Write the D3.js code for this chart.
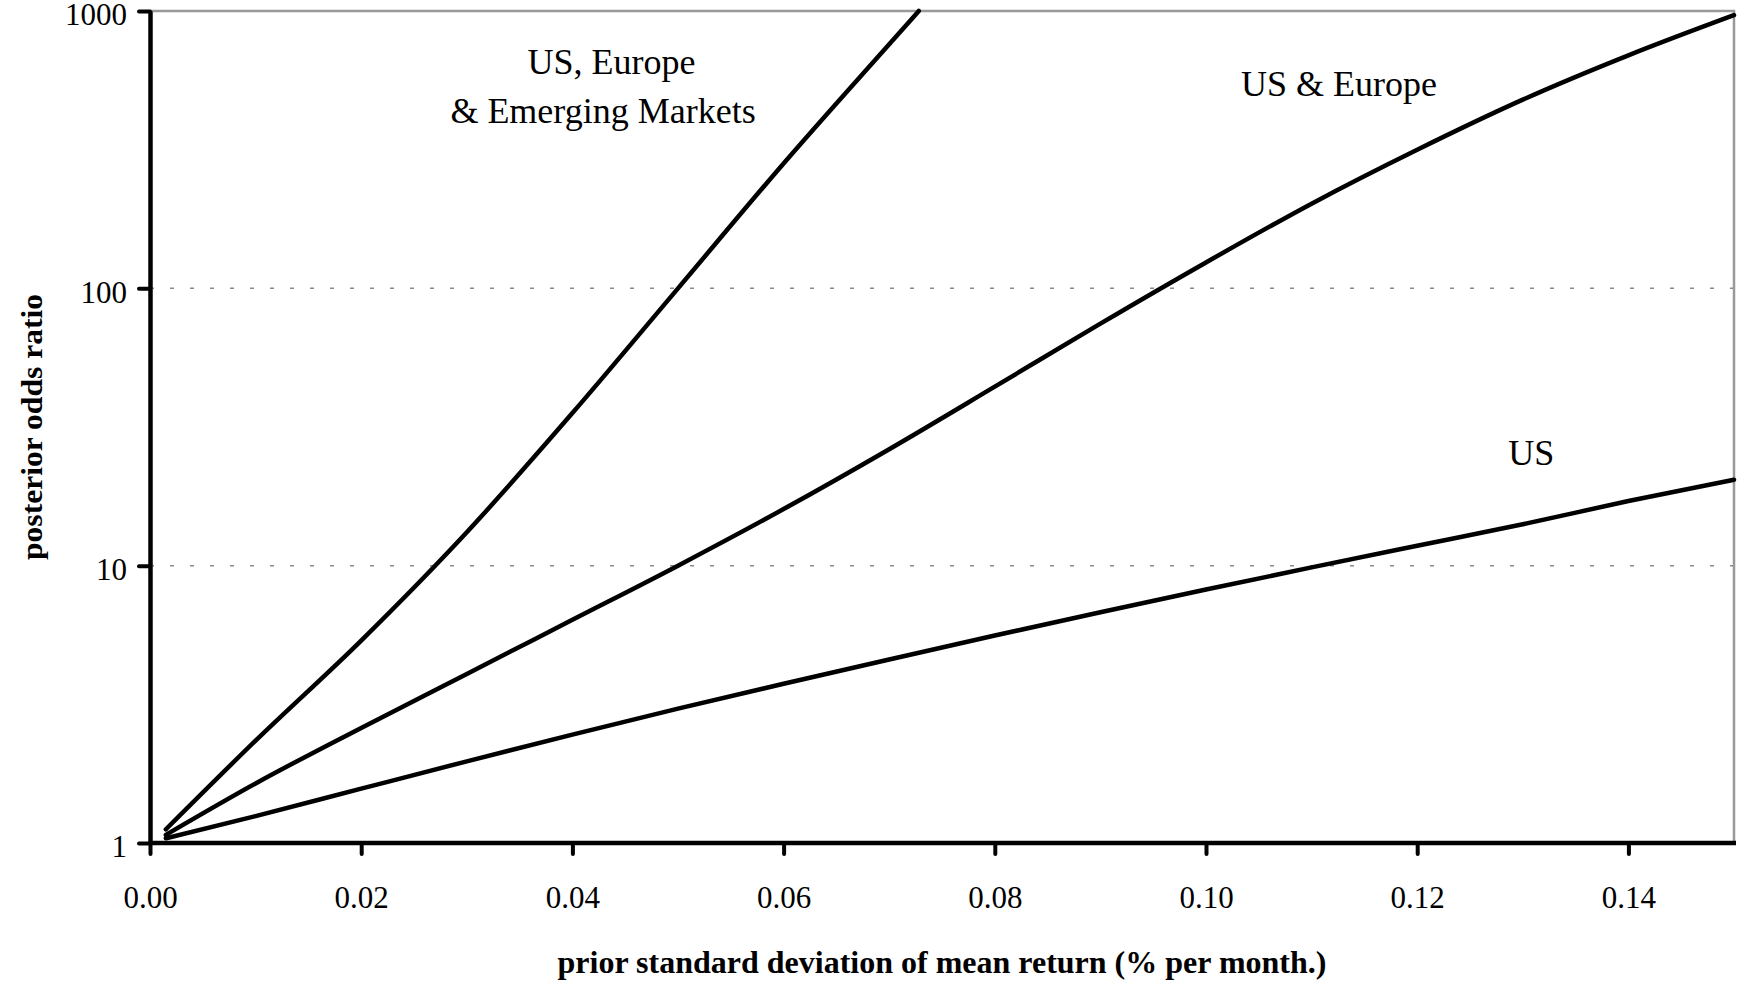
<!DOCTYPE html>
<html>
<head lang="en">
    <meta charset="UTF-8">
    <title></title>
    <script src="https://cdn.jsdelivr.net/npm/d3@7/dist/d3.min.js"></script>
    <style>
        body{margin:0;background:#fff;}
        text{font-family:"Liberation Serif","Times New Roman",serif;fill:#000;}
    </style>
</head>
<body>
<div id="tu1"></div>
<script>
    // prior std dev (x) and posterior odds ratio per market set
    var sigmaUS=[0.0015,0.01,0.02,0.03,0.04,0.05,0.06,0.07,0.08,0.09,0.10,0.11,0.12,0.13,0.14,0.15];
    var oddsUS=[1.04,1.25,1.57,1.97,2.46,3.05,3.75,4.59,5.6,6.79,8.2,9.86,11.8,14.1,17.1,20.4];
    var sigmaUSE=[0.0015,0.01,0.02,0.03,0.04,0.05,0.06,0.07,0.08,0.09,0.10,0.11,0.12,0.13,0.14,0.15];
    var oddsUSE=[1.07,1.64,2.6,4.07,6.38,10,16,26.3,44.2,74.6,124,202,316,479,692,966];
    var sigmaEM=[0.0015,0.01,0.02,0.03,0.04,0.05,0.06,0.07,0.0728];
    var oddsEM=[1.12,2.34,5.37,13.2,35.5,100,282,759,1000];
    var xticks=[0,0.02,0.04,0.06,0.08,0.10,0.12,0.14];
    var yticks=[1,10,100,1000];
    var gridTicks=[10,100];

    var svgwidth=1738,svgheight=982;
    var _margin={top:11,right:4,bottom:139,left:150};
    var w=svgwidth-_margin.left-_margin.right;
    var h=svgheight-_margin.top-_margin.bottom;

    var _svg=d3.select('#tu1').append('svg')
            .attr('width',svgwidth)
            .attr('height',svgheight);
    var g=_svg.append('g')
            .attr('transform','translate('+_margin.left+','+_margin.top+')');

    var x=d3.scaleLinear().domain([0,0.15]).range([0,w]);
    var y=d3.scaleLog().domain([1,1000]).range([h,0]);

    // dotted grid lines
    g.append('g').selectAll('line').data(gridTicks).enter().append('line')
            .attr('x1',0).attr('x2',w)
            .attr('y1',function(d){return y(d)}).attr('y2',function(d){return y(d)})
            .attr('stroke','#8a8a8a').attr('stroke-width',1.5)
            .attr('stroke-dasharray','4,16');

    // gray frame top/right
    g.append('path')
            .attr('d','M0,0H'+w+'V'+h)
            .attr('fill','none').attr('stroke','#999').attr('stroke-width',2.5);

    // lines
    var _line=d3.line()
            .x(function(d){return x(d[0])})
            .y(function(d){return y(d[1])})
            .curve(d3.curveMonotoneX);
    var allSeries=[d3.zip(sigmaUS,oddsUS),d3.zip(sigmaUSE,oddsUSE),d3.zip(sigmaEM,oddsEM)];
    g.append('g').selectAll('path').data(allSeries).enter().append('path')
            .attr('d',function(d){return _line(d)})
            .attr('fill','none').attr('stroke','#000').attr('stroke-width',4.5)
            .attr('stroke-linecap','round');

    // axes
    var gx=g.append('g').attr('transform','translate(0,'+h+')');
    d3.axisBottom(x).tickValues(xticks).tickSize(11).tickSizeOuter(0)
            .tickFormat(d3.format('.2f'))(gx);
    var gy=g.append('g');
    d3.axisLeft(y).tickValues(yticks).tickSize(11).tickSizeOuter(0).tickPadding(12)
            .tickFormat(d3.format('d'))(gy);
    [gx,gy].forEach(function(a){
        a.select('.domain').attr('stroke','#000').attr('stroke-width',4.5);
        a.selectAll('.tick line').attr('stroke','#000').attr('stroke-width',4).attr('stroke-linecap','round');
        a.selectAll('.tick text').style('font-family','"Liberation Serif",serif').style('font-size','31px').attr('fill','#000');
    });
    gx.select('.domain').attr('d','M0,0H'+(w+2));
    gx.selectAll('.tick text').attr('y',65).attr('dy',0);
    gy.selectAll('.tick text').attr('dy','0.45em');

    // series labels (position in data units: sigma, odds)
    var labelText=['US, Europe','& Emerging Markets','US & Europe','US'];
    var labelX=[0.0437,0.0429,0.1126,0.1308];
    var labelV=[595,393,493,23.1];
    g.append('g').selectAll('text').data(labelText).enter().append('text')
            .attr('x',function(d,i){return x(labelX[i])})
            .attr('y',function(d,i){return y(labelV[i])})
            .attr('text-anchor','middle')
            .style('font-family','"Liberation Serif",serif')
            .style('font-size','36px')
            .text(function(d){return d});

    // axis titles
    _svg.append('text')
            .attr('x',_margin.left+w/2).attr('y',973)
            .attr('text-anchor','middle')
            .style('font-family','"Liberation Serif",serif')
            .style('font-size','32px').style('font-weight','bold')
            .text('prior standard deviation of mean return (% per month.)');
    _svg.append('text')
            .attr('transform','translate(42,427) rotate(-90)')
            .attr('text-anchor','middle')
            .attr('textLength',266).attr('lengthAdjust','spacingAndGlyphs')
            .style('font-family','"Liberation Serif",serif')
            .style('font-size','30px').style('font-weight','bold')
            .text('posterior odds ratio');
</script>
</body>
</html>
